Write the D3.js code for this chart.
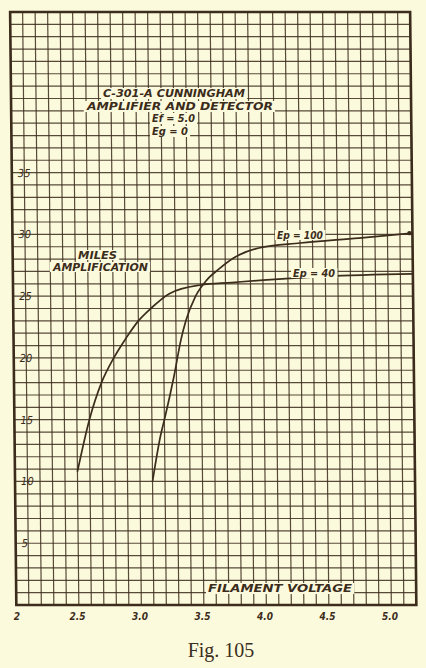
<!DOCTYPE html>
<html><head><meta charset="utf-8">
<script src="https://cdn.jsdelivr.net/npm/d3@7/dist/d3.min.js"></script>
<style>
html,body{margin:0;padding:0;background:#fcfadc;}
svg{display:block;}
</style></head>
<body>
<svg id="c" width="426" height="668"></svg>
<script>
// ---- data ----
const xTickValues = [2, 2.5, 3.0, 3.5, 4.0, 4.5, 5.0];
const xTickLabels = ["2", "2.5", "3.0", "3.5", "4.0", "4.5", "5.0"];
const yTickValues = [5, 10, 15, 20, 25, 30, 35];
const yTickLabels = ["5", "10", "15", "20", "25", "30", "35"];
const seriesNames = ["Ep = 100", "Ep = 40"];
const ep100X = [3.1, 3.17, 3.2, 3.28, 3.34, 3.38, 3.46, 3.55, 3.65, 3.77, 3.97, 4.3, 4.77, 5.2];
const ep100Y = [10, 13.8, 15, 18.5, 21.5, 23, 25, 26.3, 27.2, 28.1, 28.9, 29.3, 29.7, 30.1];
const ep40X = [2.5, 2.6, 2.7, 2.8, 2.9, 3.0, 3.1, 3.25, 3.5, 3.75, 4.0, 4.5, 5.2];
const ep40Y = [10.8, 15, 18, 20, 21.6, 23, 24, 25.2, 25.9, 26.1, 26.3, 26.6, 26.8];
const titleLines = ["C-301-A CUNNINGHAM", "AMPLIFIER AND DETECTOR", "Ef = 5.0", "Eg = 0"];
const yTitle = ["MILES", "AMPLIFICATION"];
const xTitle = "FILAMENT VOLTAGE";
const caption = "Fig. 105";

// ---- layout ----
const BG = "#fcfadc", INK = "#3b2c1c";
const svg = d3.select("#c");
svg.append("rect").attr("width", 426).attr("height", 668).attr("fill", BG);

const x = d3.scaleLinear().domain([2, 5.2]).range([13, 413]);
const y = d3.scaleLinear().domain([0, 48]).range([605, 12]);

const g = svg.append("g").attr("transform", "skewX(0.6) translate(-3,0)");

// grid
const gx = d3.range(0, 33).map(i => 2 + i * 0.1);
const gy = d3.range(0, 49);
g.append("g").selectAll("line").data(gx).join("line")
  .attr("x1", d => x(d)).attr("x2", d => x(d))
  .attr("y1", y(48)).attr("y2", y(0))
  .attr("stroke", INK).attr("stroke-width", 1.2).attr("opacity", 0.85);
g.append("g").selectAll("line").data(gy).join("line")
  .attr("y1", d => y(d)).attr("y2", d => y(d))
  .attr("x1", x(2)).attr("x2", x(5.2))
  .attr("stroke", INK).attr("stroke-width", 1.2).attr("opacity", 0.85);
// border
g.append("rect").attr("x", x(2)).attr("y", y(48))
  .attr("width", x(5.2) - x(2)).attr("height", y(0) - y(48))
  .attr("fill", "none").attr("stroke", INK).attr("stroke-width", 2.6);

const handFont = "'DejaVu Sans Condensed','DejaVu Sans',sans-serif";
const labels = svg.append("g");
// hand-lettered text placed to span [x0, x1] with a cleared box behind it
function hand(str, x0, x1, base, size) {
  const t = labels.append("text").attr("x", x0).attr("y", base)
    .attr("font-family", handFont).attr("font-style", "italic").attr("font-weight", "bold")
    .attr("font-size", size).attr("fill", INK)
    .attr("textLength", x1 - x0).attr("lengthAdjust", "spacingAndGlyphs").text(str);
  const b = t.node().getBBox();
  labels.insert("rect", () => t.node())
    .attr("x", b.x - 2).attr("y", b.y + 1).attr("width", b.width + 4).attr("height", b.height - 2)
    .attr("fill", BG);
  return t;
}

// curves
const line = d3.line().x(d => x(d[0])).y(d => y(d[1])).curve(d3.curveMonotoneX);
const s100 = ep100X.map((v, i) => [v, ep100Y[i]]);
const s40 = ep40X.map((v, i) => [v, ep40Y[i]]);
[s100, s40].forEach(s => {
  g.append("path").attr("d", line(s)).attr("fill", "none")
    .attr("stroke", INK).attr("stroke-width", 1.7);
});
g.append("circle").attr("cx", x(s100[s100.length - 1][0]) - 3).attr("cy", y(s100[s100.length - 1][1]))
  .attr("r", 2.2).attr("fill", INK);

// y tick labels
g.append("g").selectAll("text").data(yTickValues).join("text")
  .attr("font-family", handFont).attr("font-style", "italic")
  .attr("fill", INK).attr("x", 19).attr("y", d => y(d) + 4)
  .attr("font-size", 11).text((d, i) => yTickLabels[i]);

// x tick labels (below frame)
svg.append("g").selectAll("text").data(xTickValues).join("text")
  .attr("font-family", handFont).attr("font-style", "italic").attr("font-weight", "bold")
  .attr("fill", INK).attr("text-anchor", "middle").attr("font-size", 10)
  .attr("x", (d, i) => x(d) + (i === 0 ? 4 : 2)).attr("y", 620)
  .text((d, i) => xTickLabels[i]);

// title block
hand(titleLines[0], 103, 245, 97, 11);
hand(titleLines[1], 87, 273, 110, 11);
hand(titleLines[2], 152, 195, 122, 11);
hand(titleLines[3], 152, 188, 135, 11);
// y title
hand(yTitle[0], 78, 117, 259, 10.5);
hand(yTitle[1], 53, 148, 271, 10.5);
// series labels
hand(seriesNames[0], 277, 323, 239, 10.5);
hand(seriesNames[1], 293, 335, 277, 10.5);
// x title
hand(xTitle, 208, 352, 592, 11);

// caption
svg.append("text").attr("x", 221).attr("y", 657).attr("text-anchor", "middle")
  .attr("font-family", "'Liberation Serif','DejaVu Serif',serif").attr("font-size", 20)
  .attr("fill", "#3a2e22").text(caption);
</script>
</body></html>
